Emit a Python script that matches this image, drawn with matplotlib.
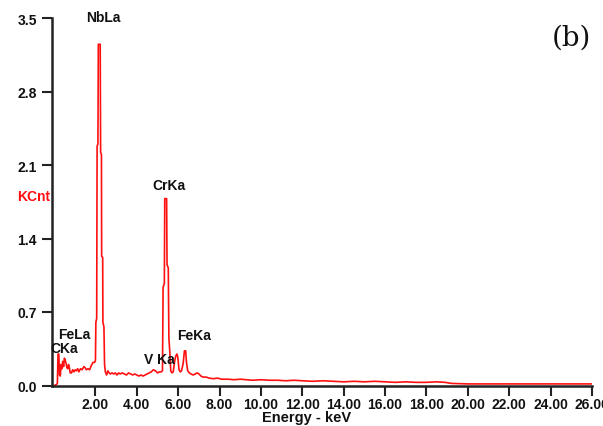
import matplotlib
matplotlib.use("Agg")
import matplotlib.pyplot as plt

# EDS spectrum: energy (keV) and counts (KCnt)
energy = [
    0.00, 0.12, 0.16, 0.19, 0.23, 0.26, 0.30, 0.34, 0.38, 0.42,
    0.46, 0.50, 0.54, 0.58, 0.62, 0.66, 0.70, 0.74, 0.78, 0.84,
    0.90, 0.96, 1.02, 1.08, 1.14, 1.20, 1.28, 1.36, 1.44, 1.50,
    1.56, 1.64, 1.72, 1.80, 1.88, 1.96, 2.00, 2.02, 2.06, 2.08,
    2.12, 2.14, 2.23, 2.25, 2.29, 2.30, 2.35, 2.36, 2.41, 2.44,
    2.48, 2.54, 2.60, 2.66, 2.72, 2.80, 2.88, 2.96, 3.04, 3.12,
    3.20, 3.30, 3.40, 3.50, 3.60, 3.70, 3.80, 3.90, 4.00, 4.10,
    4.20, 4.30, 4.40, 4.50, 4.60, 4.70, 4.80, 4.90, 5.00, 5.10,
    5.18, 5.24, 5.27, 5.29, 5.33, 5.35, 5.44, 5.46, 5.52, 5.55,
    5.60, 5.64, 5.70, 5.76, 5.82, 5.88, 5.94, 5.98, 6.04, 6.10,
    6.16, 6.24, 6.30, 6.36, 6.40, 6.46, 6.54, 6.62, 6.72, 6.82,
    6.92, 7.00, 7.10, 7.20, 7.35, 7.50, 7.70, 7.90, 8.10, 8.40,
    8.70, 9.00, 9.30, 9.60, 10.0, 10.4, 10.8, 11.2, 11.6, 12.0,
    12.5, 13.0, 13.5, 14.0, 14.5, 15.0, 15.5, 16.0, 16.5, 17.0,
    17.5, 18.0, 18.5, 18.9, 19.2, 20.0, 22.0, 24.0, 26.0,
]
kcnt = [
    0.00, 0.01, 0.02, 0.30, 0.30, 0.10, 0.09, 0.20, 0.16, 0.23,
    0.18, 0.26, 0.24, 0.21, 0.17, 0.16, 0.20, 0.17, 0.12, 0.12,
    0.15, 0.13, 0.15, 0.14, 0.16, 0.13, 0.16, 0.15, 0.18, 0.17,
    0.15, 0.16, 0.15, 0.19, 0.22, 0.22, 0.24, 0.60, 0.64, 2.28,
    2.30, 3.25, 3.25, 2.22, 2.20, 1.23, 1.22, 0.60, 0.56, 0.20,
    0.13, 0.10, 0.14, 0.12, 0.11, 0.12, 0.11, 0.12, 0.10, 0.12,
    0.11, 0.12, 0.11, 0.10, 0.12, 0.11, 0.10, 0.11, 0.10, 0.09,
    0.10, 0.09, 0.10, 0.11, 0.12, 0.13, 0.15, 0.14, 0.12, 0.13,
    0.13, 0.14, 0.93, 0.95, 0.97, 1.78, 1.78, 1.15, 1.12, 0.45,
    0.30, 0.14, 0.12, 0.13, 0.22, 0.28, 0.30, 0.27, 0.15, 0.13,
    0.14, 0.21, 0.33, 0.33, 0.22, 0.14, 0.12, 0.11, 0.10, 0.11,
    0.12, 0.11, 0.09, 0.08, 0.08, 0.07, 0.065, 0.07, 0.06, 0.06,
    0.055, 0.06, 0.055, 0.05, 0.055, 0.05, 0.05, 0.045, 0.05, 0.045,
    0.04, 0.045, 0.04, 0.035, 0.04, 0.035, 0.04, 0.035, 0.03, 0.035,
    0.03, 0.03, 0.035, 0.03, 0.02, 0.015, 0.015, 0.015, 0.015,
]

peak_labels = ["NbLa", "CrKa", "FeLa", "CKa", "V Ka", "FeKa"]
peak_x = [2.37, 5.57, 0.97, 0.51, 5.10, 6.78]
peak_y = [3.51, 1.91, 0.49, 0.355, 0.255, 0.48]

x_ticks = [2, 4, 6, 8, 10, 12, 14, 16, 18, 20, 22, 24, 26]
y_ticks = [0.0, 0.7, 1.4, 2.1, 2.8, 3.5]

plt.rcParams["font.family"] = ["Liberation Sans", "DejaVu Sans"]

fig = plt.figure(figsize=(6.03, 4.27), dpi=100)
ax = fig.add_axes([52 / 603, 40.5 / 427, 540 / 603, 367.5 / 427])

ax.plot(energy, kcnt, color="#ff1010", linewidth=1.2)

ax.set_xlim(-0.1, 26.0)
ax.set_ylim(0, 3.5)
ax.set_xticks(x_ticks)
ax.set_xticklabels([f"{v:.2f}" for v in x_ticks])
ax.set_yticks(y_ticks)
ax.set_yticklabels([f"{v:.1f}" for v in y_ticks])

for side in ("top", "right"):
    ax.spines[side].set_visible(False)
for side in ("left", "bottom"):
    ax.spines[side].set_color("#222222")
    ax.spines[side].set_linewidth(1.8)
ax.tick_params(direction="out", length=7, width=1.5, colors="#222222",
               labelsize=10, pad=4)
ax.tick_params(axis="x", pad=1.5)
for lbl in ax.get_xticklabels() + ax.get_yticklabels():
    lbl.set_fontweight("bold")
    lbl.set_color("#111111")

for name, px, py in zip(peak_labels, peak_x, peak_y):
    ax.text(px, py, name, ha="center", va="center", fontsize=10,
            fontweight="bold", color="#111111", clip_on=False)

fig.text(307 / 603, 1 - 418 / 427, "Energy - keV", ha="center", va="center",
         fontsize=10.5, fontweight="bold", color="#111111")
fig.text(50 / 603, 1 - 197 / 427, "KCnt", ha="right", va="center",
         fontsize=10, fontweight="bold", color="#ff1010")
fig.text(571 / 603, 1 - 38 / 427, "(b)", ha="center", va="center",
         fontsize=20, family="DejaVu Serif", color="#111111")

fig.savefig("out.png", dpi=100)
